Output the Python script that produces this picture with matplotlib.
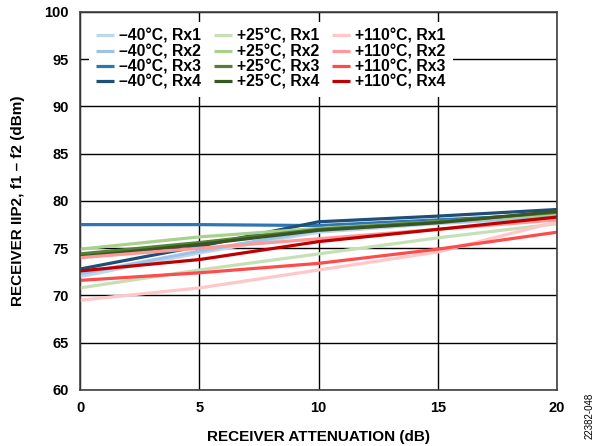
import matplotlib
matplotlib.use("Agg")
import matplotlib.pyplot as plt

plt.rcParams['font.family'] = ['Liberation Sans', 'DejaVu Sans']

atten = [0, 5, 10, 15, 20]

m40_rx1 = [72.0, 74.5, 76.7, 77.6, 78.3]
m40_rx2 = [72.3, 74.7, 76.9, 77.7, 78.4]
m40_rx3 = [77.5, 77.5, 77.4, 78.0, 78.6]
m40_rx4 = [72.8, 75.2, 77.8, 78.4, 79.1]
p25_rx1 = [70.8, 72.7, 74.4, 76.1, 77.6]
p25_rx2 = [74.9, 76.2, 77.1, 77.8, 78.6]
p25_rx3 = [74.4, 75.6, 77.0, 77.8, 78.8]
p25_rx4 = [74.1, 75.4, 76.9, 77.7, 78.9]
p110_rx1 = [69.5, 70.8, 72.7, 74.6, 77.8]
p110_rx2 = [74.0, 75.0, 76.0, 77.0, 78.0]
p110_rx3 = [71.6, 72.4, 73.4, 74.9, 76.7]
p110_rx4 = [72.6, 73.8, 75.7, 77.0, 78.3]

labels = ['–40°C, Rx1', '–40°C, Rx2', '–40°C, Rx3', '–40°C, Rx4',
          '+25°C, Rx1', '+25°C, Rx2', '+25°C, Rx3', '+25°C, Rx4',
          '+110°C, Rx1', '+110°C, Rx2', '+110°C, Rx3', '+110°C, Rx4']
series = [m40_rx1, m40_rx2, m40_rx3, m40_rx4,
          p25_rx1, p25_rx2, p25_rx3, p25_rx4,
          p110_rx1, p110_rx2, p110_rx3, p110_rx4]
colors = ['#bdd7ee', '#9dc3e6', '#2e75b6', '#1f4e79',
          '#c5e0b4', '#a9d18e', '#548235', '#375623',
          '#ffc7c7', '#ff9999', '#ff4b4b', '#c00000']

fig = plt.figure(figsize=(5.99, 4.46), dpi=100)
ax = fig.add_axes([0.1336, 0.1256, 0.7964, 0.8475])

for y, c, l in zip(series, colors, labels):
    ax.plot(atten, y, color=c, lw=2.3, label=l, solid_capstyle='butt')

ax.set_xlim(0, 20)
ax.set_ylim(60, 100)
ax.set_xticks([0, 5, 10, 15, 20])
ax.set_yticks(range(60, 101, 5))
ax.grid(True, color='black', lw=1.0)
ax.set_axisbelow(True)
for s in ax.spines.values():
    s.set_color('#404040')
    s.set_linewidth(1.2)
ax.tick_params(length=0, labelsize=10.5, pad=8)
for t in ax.get_xticklabels() + ax.get_yticklabels():
    t.set_fontweight('bold')

ax.set_xlabel('RECEIVER ATTENUATION (dB)', fontsize=11, fontweight='bold', labelpad=11)
ax.set_ylabel('RECEIVER IIP2, f1 – f2 (dBm)', fontsize=11, fontweight='bold', labelpad=14)

leg = ax.legend(loc='upper left', ncol=3, frameon=True, fancybox=False,
                fontsize=11.3, handlelength=1.15, handletextpad=0.32,
                columnspacing=0.8, labelspacing=0.02,
                borderpad=0.45, bbox_to_anchor=(0.003, 0.995))
leg.get_frame().set_edgecolor('none')
leg.get_frame().set_facecolor('white')
leg.get_frame().set_alpha(1.0)
for t in leg.get_texts():
    t.set_fontweight('bold')

fig.text(0.985, 0.015, '22382-048', rotation=90, fontsize=7, ha='center', va='bottom')

fig.savefig('out.png', dpi=100)
